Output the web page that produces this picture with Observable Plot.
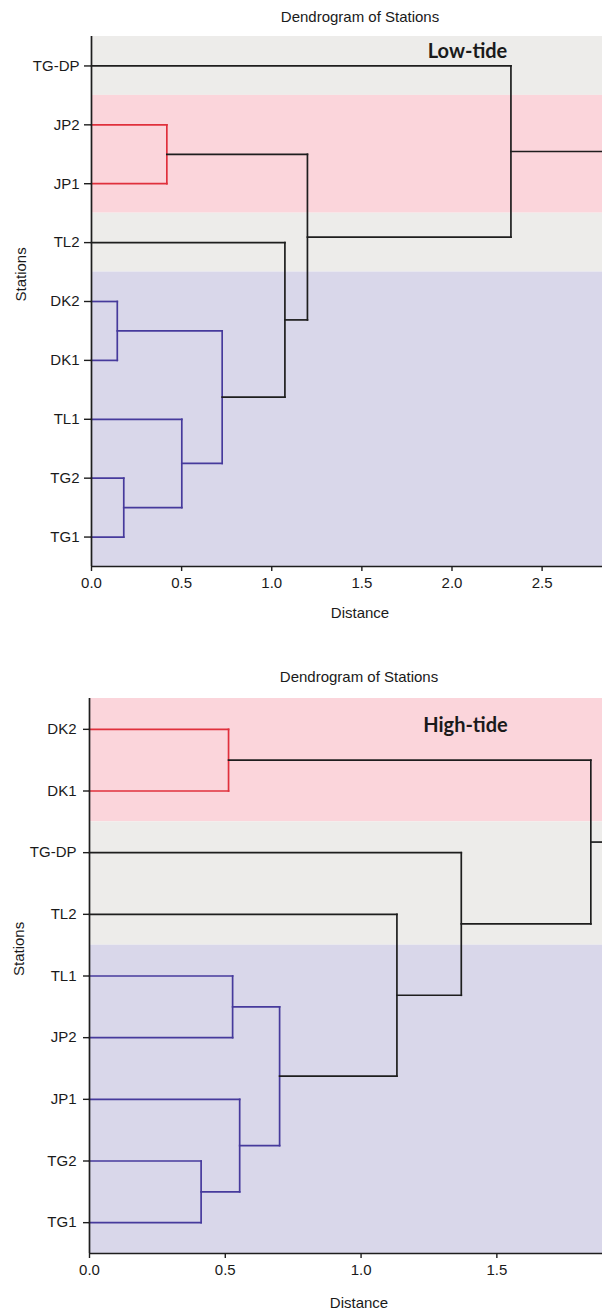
<!DOCTYPE html>
<html>
<head>
<meta charset="utf-8">
<script src="https://cdn.jsdelivr.net/npm/d3@7"></script>
<script src="https://cdn.jsdelivr.net/npm/@observablehq/plot@0.6"></script>
<style>
  html, body { margin: 0; padding: 0; background: #ffffff; overflow: hidden; }
  #wrap { width: 602px; }
  svg { display: block; }
</style>
</head>
<body>
<div id="wrap"></div>
<script>
// ---------- data: Low-tide ----------
const lowTitle = "Dendrogram of Stations";
const lowTag = "Low-tide";
const lowStations = ["TG-DP", "JP2", "JP1", "TL2", "DK2", "DK1", "TL1", "TG2", "TG1"];
// merges: [childA, childB, distance, cluster]
const lowMerges = [
  ["JP2", "JP1", 0.418, "red"],
  ["DK2", "DK1", 0.143, "blue"],
  ["TG2", "TG1", 0.179, "blue"],
  ["TL1", "m2", 0.501, "blue"],
  ["m1", "m3", 0.725, "blue"],
  ["TL2", "m4", 1.073, "black"],
  ["m0", "m5", 1.198, "black"],
  ["TG-DP", "m6", 2.327, "black"]
];
const lowBands = [["TG-DP", "TG-DP", "gray"], ["JP2", "JP1", "pink"], ["TL2", "TL2", "gray"], ["DK2", "TG1", "lavender"]];
const lowXMax = 2.835;
const lowTicks = [0, 0.5, 1.0, 1.5, 2.0, 2.5];

// ---------- data: High-tide ----------
const highTitle = "Dendrogram of Stations";
const highTag = "High-tide";
const highStations = ["DK2", "DK1", "TG-DP", "TL2", "TL1", "JP2", "JP1", "TG2", "TG1"];
const highMerges = [
  ["DK2", "DK1", 0.512, "red"],
  ["TG2", "TG1", 0.411, "blue"],
  ["JP1", "m1", 0.553, "blue"],
  ["TL1", "JP2", 0.527, "blue"],
  ["m3", "m2", 0.700, "blue"],
  ["TL2", "m4", 1.132, "black"],
  ["TG-DP", "m5", 1.369, "black"],
  ["m0", "m6", 1.846, "black"]
];
const highBands = [["DK2", "DK1", "pink"], ["TG-DP", "TL2", "gray"], ["TL1", "TG1", "lavender"]];
const highXMax = 1.889;
const highTicks = [0, 0.5, 1.0, 1.5];

const xLabel = "Distance";
const yLabel = "Stations";

// ---------- styles ----------
const lineColors = { red: "#e0303c", blue: "#463a9c", black: "#1e1e1e" };
const bandColors = { gray: "#edecea", pink: "#fbd5db", lavender: "#d9d7ea" };
const FONT = "'Liberation Sans', Arial, sans-serif";

function buildLinks(stations, merges) {
  const nodes = new Map();
  stations.forEach((s, i) => nodes.set(s, { y: i, h: 0 }));
  const segs = [];
  merges.forEach((m, k) => {
    const [a, b, h, c] = m;
    const A = nodes.get(a), B = nodes.get(b);
    const color = lineColors[c];
    segs.push({ x1: A.h, x2: h, y1: A.y, y2: A.y, color });
    segs.push({ x1: B.h, x2: h, y1: B.y, y2: B.y, color });
    segs.push({ x1: h, x2: h, y1: A.y, y2: B.y, color });
    nodes.set("m" + k, { y: (A.y + B.y) / 2, h });
  });
  const last = nodes.get("m" + (merges.length - 1));
  return { segs, root: last };
}

function chart({ title, tag, stations, merges, bands, xMax, ticks, height, marginTop, marginBottom, marginLeft, tickSizeY, tickPadY, titleDy, tagAnchorX, tagDy, xLabelDy }) {
  const { segs, root } = buildLinks(stations, merges);
  segs.push({ x1: root.h, x2: xMax, y1: root.y, y2: root.y, color: lineColors.black });
  const idx = new Map(stations.map((s, i) => [s, i]));
  const bandRows = bands.map(([a, b, c]) => ({ y1: idx.get(a) - 0.5, y2: idx.get(b) + 0.5, fill: bandColors[c] }));
  const yDomain = [-0.5, stations.length - 0.5];
  return Plot.plot({
    width: 602,
    height,
    marginTop,
    marginBottom,
    marginLeft,
    marginRight: 0,
    style: { fontFamily: FONT, fontSize: "15px", color: "#1a1a1a", background: "transparent", overflow: "visible" },
    x: { domain: [0, xMax], ticks, tickFormat: d3.format(".1f"), label: null },
    y: { domain: yDomain, reverse: true, label: null },
    marks: [
      Plot.rect(bandRows, { y1: "y1", y2: "y2", fill: "fill" }),
      Plot.link(segs, { x1: "x1", x2: "x2", y1: "y1", y2: "y2", stroke: "color", strokeWidth: 1.7, strokeLinecap: "square" }),
      Plot.ruleX([0], { stroke: "#1e1e1e", strokeWidth: 1.7 }),
      Plot.ruleY([yDomain[1]], { stroke: "#1e1e1e", strokeWidth: 1.7 }),
      Plot.axisX({ ticks, tickFormat: d3.format(".1f"), tickSize: 5, tickPadding: 6, label: null, stroke: "#1e1e1e", strokeWidth: 1.4 }),
      Plot.axisY({ ticks: d3.range(stations.length), tickFormat: (i) => stations[i], tickSize: tickSizeY, tickPadding: tickPadY, label: null, stroke: "#1e1e1e", strokeWidth: 1.4 }),
      Plot.text([title], { frameAnchor: "top", text: (d) => d, dy: titleDy, dx: 13, fontSize: 15, lineAnchor: "middle" }),
      Plot.text([tag], { frameAnchor: "top-left", text: (d) => d, dx: tagAnchorX, dy: tagDy, fontSize: 20, fontWeight: "bold", fontFamily: "Lato, 'Open Sans', sans-serif", textAnchor: "middle", lineAnchor: "middle" }),
      Plot.text([xLabel], { frameAnchor: "bottom", text: (d) => d, dy: xLabelDy, dx: 13, fontSize: 15, lineAnchor: "middle" }),
      Plot.text([yLabel], { frameAnchor: "left", text: (d) => d, dx: -70, rotate: -90, fontSize: 15, lineAnchor: "middle" })
    ]
  });
}

const wrap = document.getElementById("wrap");
wrap.appendChild(chart({
  title: lowTitle, tag: lowTag, stations: lowStations, merges: lowMerges, bands: lowBands,
  xMax: lowXMax, ticks: lowTicks,
  height: 640, marginTop: 36, marginBottom: 74, marginLeft: 91,
  tickSizeY: 7, tickPadY: 5, titleDy: -19, tagAnchorX: 376, tagDy: 15, xLabelDy: 47
}));
wrap.appendChild(chart({
  title: highTitle, tag: highTag, stations: highStations, merges: highMerges, bands: highBands,
  xMax: highXMax, ticks: highTicks,
  height: 673, marginTop: 58, marginBottom: 60, marginLeft: 89,
  tickSizeY: 6, tickPadY: 7, titleDy: -21, tagAnchorX: 376, tagDy: 27, xLabelDy: 50
}));
</script>
</body>
</html>
